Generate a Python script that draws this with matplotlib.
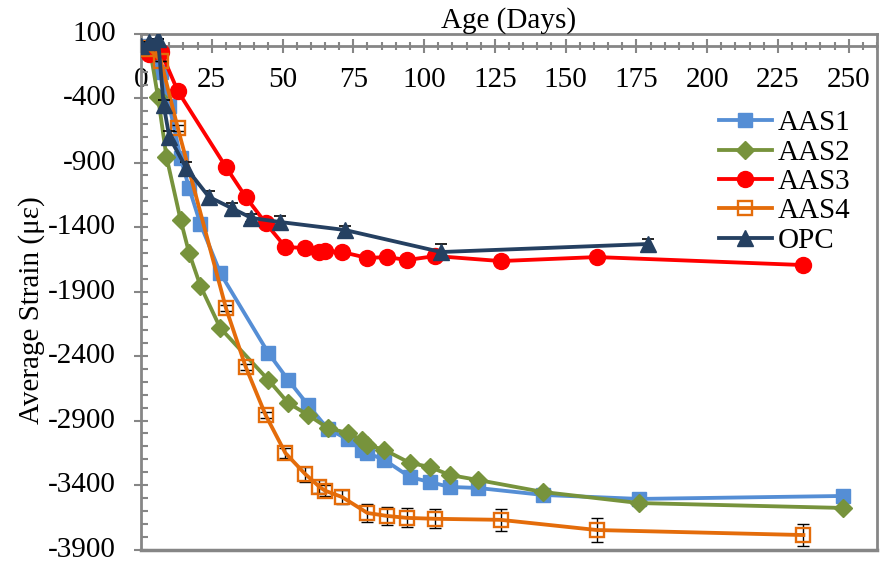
import matplotlib
matplotlib.use('Agg')

import numpy as np
import matplotlib.pyplot as plt
from matplotlib.ticker import MultipleLocator, FixedLocator


# ------------------ DATA ------------------

aas1_days = [0, 3, 7, 10, 14, 17, 21, 28, 45, 52, 59, 66, 73, 78, 80, 86, 95, 102, 109, 119, 142, 176, 248]
aas1_strain = [0, -10, -200, -460, -865, -1098, -1377, -1757, -2377, -2586, -2780, -2965, -3045, -3129,
               -3152, -3206, -3338, -3377, -3415, -3423, -3477, -3508, -3485]

aas2_days = [0, 3, 6, 9, 14, 17, 21, 28, 45, 52, 59, 66, 73, 78, 80, 86, 95, 102, 109, 119, 142, 176, 248]
aas2_strain = [-10, 0, -392, -857, -1346, -1602, -1857, -2183, -2586, -2764, -2857, -2958, -2997, -3051,
               -3090, -3128, -3229, -3260, -3322, -3361, -3454, -3540, -3578]

aas3_days = [0, 3, 7, 13, 30, 37, 44, 51, 58, 63, 65, 71, 80, 87, 94, 104, 127, 161, 234]
aas3_strain = [-10, -60, -40, -346, -935, -1167, -1369, -1555, -1563, -1594, -1586, -1594, -1640, -1633,
               -1656, -1625, -1664, -1633, -1695]

aas4_days = [0, 3, 7, 13, 30, 37, 44, 51, 58, 63, 65, 71, 80, 87, 94, 104, 127, 161, 234]
aas4_strain = [-10, -20, -110, -633, -2028, -2485, -2857, -3152, -3315, -3413, -3444, -3493, -3617, -3640,
               -3655, -3662, -3670, -3749, -3788]
aas4_err = [0, 0, 0, 25, 25, 20, 20, 40, 58, 52, 45, 54, 72, 71, 74, 74, 84, 90, 83]

opc_days = [0, 3, 6, 8, 10, 16, 24, 32, 39, 49, 72, 106, 179]
opc_strain = [0, 34, 60, -454, -702, -943, -1167, -1253, -1330, -1361, -1423, -1594, -1532]
opc_err = [0, 0, 0, 40, 45, 45, 45, 40, 30, 45, 30, 60, 40]

x_ticks = [0, 25, 50, 75, 100, 125, 150, 175, 200, 225, 250]
y_ticks = [100, -400, -900, -1400, -1900, -2400, -2900, -3400, -3900]


# ------------------ STYLE ------------------

plt.rcParams['font.family'] = ['Liberation Serif', 'DejaVu Serif']
plt.rcParams['axes.unicode_minus'] = False

GRAY = '#868686'
FS = 21

fig = plt.figure(figsize=(8.8, 5.62), dpi=100)
ax = fig.add_axes([141 / 880, 1 - 549.5 / 562, (877 - 141) / 880, (549.5 - 33.5) / 562])

lw = 2.75
ax.plot(aas1_days, aas1_strain, color='#558ED5', lw=lw, marker='s', ms=10.5, label='AAS1', zorder=3)
ax.plot(aas2_days, aas2_strain, color='#77933C', lw=lw, marker='D', ms=9.5, label='AAS2', zorder=4)
ax.plot(aas3_days, aas3_strain, color='#FF0000', lw=lw, marker='o', ms=11.5, label='AAS3', zorder=5)

ax.errorbar(aas4_days, aas4_strain, yerr=aas4_err, fmt='none', ecolor='black',
            elinewidth=1, capsize=4, capthick=1, zorder=6)
ax.plot(aas4_days, aas4_strain, color='#E46C0A', lw=lw, marker='s', ms=10.5, mfc='none',
        mew=1.7, label='AAS4', zorder=6)

ax.errorbar(opc_days, opc_strain, yerr=opc_err, fmt='none', ecolor='black',
            elinewidth=1, capsize=4, capthick=1.2, zorder=7)
ax.plot(opc_days, opc_strain, color='#254061', lw=lw, marker='^', ms=11, label='OPC', zorder=7)

# axes limits and ticks
ax.set_xlim(0, 260)
ax.set_ylim(-3900, 100)
ax.xaxis.set_major_locator(FixedLocator(x_ticks))
ax.xaxis.set_minor_locator(MultipleLocator(5))
ax.yaxis.set_major_locator(FixedLocator(y_ticks))
ax.yaxis.set_minor_locator(MultipleLocator(100))

# x axis crosses at zero strain, frame kept round the plot area
ax.spines['bottom'].set_position(('data', 0))
for s in ax.spines.values():
    s.set_color(GRAY)
    s.set_linewidth(2)
ax.axhline(-3900, color=GRAY, lw=2.5, clip_on=False, zorder=1)

ax.tick_params(axis='both', which='major', direction='inout', length=10, width=1.5,
               color=GRAY, labelsize=FS)
ax.tick_params(axis='y', which='major', pad=13)
ax.tick_params(axis='x', which='major', pad=10)
ax.tick_params(axis='y', which='minor', direction='in', length=5, width=1.5, color=GRAY)
ax.tick_params(axis='x', which='minor', direction='inout', length=6, width=1.5, color=GRAY)
for lbl in ax.get_yticklabels():
    lbl.set_verticalalignment('center')

ax.set_title('Age (Days)', fontsize=FS, pad=1)
ax.set_ylabel('Average Strain (\u03bc\u03b5)', fontsize=FS)
ax.yaxis.set_label_coords(-0.131, 0.464)

ax.legend(loc='upper left', bbox_to_anchor=(719 / 880, 1 - 110 / 562), bbox_transform=fig.transFigure,
          frameon=False, fontsize=FS, handlelength=1.8, handletextpad=0.2, labelspacing=0.1,
          borderpad=0, borderaxespad=0)

fig.savefig('out.png', dpi=100)
plt.close(fig)
